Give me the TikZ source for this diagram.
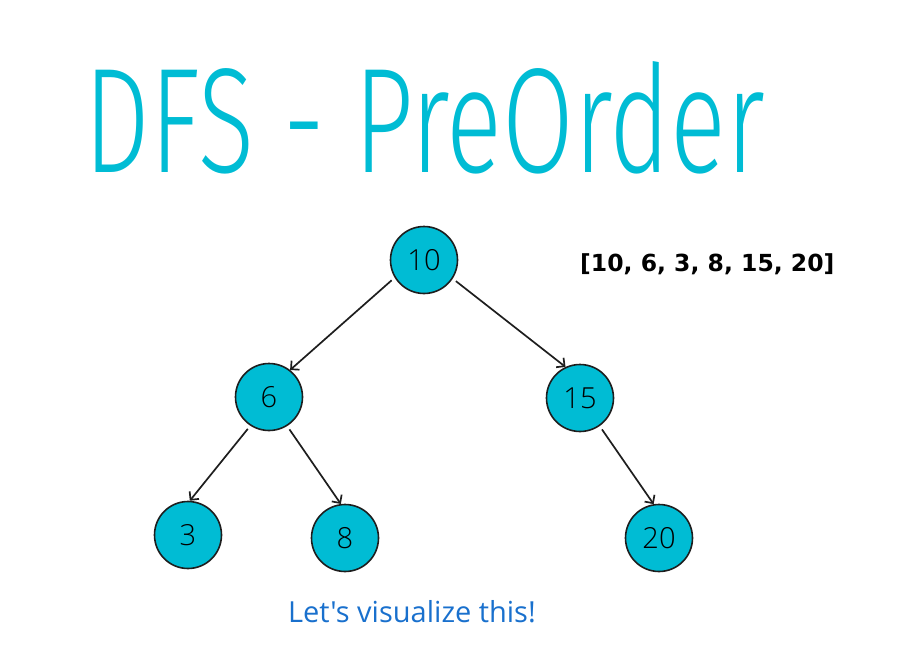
\documentclass[tikz,border=0pt]{standalone}
\usepackage{fontspec}
\usepackage{graphicx}
\setmainfont{Open Sans}
\newfontfamily\titlefont{Fira Sans Light}
\newfontfamily\numfont{Open Sans Light}
\newfontfamily\listfont{DejaVu Sans}
\newfontfamily\hintfont{Open Sans}[Ligatures=TeXOff]
\usetikzlibrary{arrows.meta}
\definecolor{tealcyan}{RGB}{0,188,212}
\definecolor{hintblue}{RGB}{25,112,205}
\definecolor{ringdark}{RGB}{30,30,30}
\tikzset{
  treenode/.style={circle, draw=ringdark, line width=1.6pt, fill=tealcyan,
    minimum size=67pt, inner sep=0pt, font=\numfont\fontsize{29}{29}\selectfont},
  treeedge/.style={draw=ringdark, line width=1.7pt,
    -{Straight Barb[length=6pt,width=12pt,line width=1.7pt]},
    shorten <=4pt}
}
\begin{document}
\begin{tikzpicture}[x=1pt,y=-1pt]
  \useasboundingbox (0,0) rectangle (924,672);
  % heading, squeezed into a condensed shape
  \node[anchor=base, text=tealcyan, inner sep=0pt] (title) at (425,172)
    {\resizebox{680pt}{111pt}{\titlefont\fontsize{100}{100}\selectfont DFS - PreOrder}};
  % traversal result
  \node[anchor=base west, inner sep=0pt, font=\listfont\bfseries\fontsize{23.5}{23.5}\selectfont] (result)
    at (580,271) {[10, 6, 3, 8, 15, 20]};
  % tree
  \node[treenode] (n10) at (424,260) {10};
  \node[treenode] (n6)  at (269,397) {6};
  \node[treenode] (n15) at (580,398) {15};
  \node[treenode] (n3)  at (188,535) {3};
  \node[treenode] (n8)  at (345,538) {8};
  \node[treenode] (n20) at (659,538) {20};
  \draw[treeedge] (n10.211) -- (n6.52);
  \draw[treeedge] (n10.-33) -- (n15.115);
  \draw[treeedge] (n6.237) -- (n3.87);
  \draw[treeedge] (n6.-58) -- (n8.97);
  \draw[treeedge] (n15.-55) -- (n20.99);
  % caption
  \node[anchor=base, inner sep=0pt, text=hintblue, font=\hintfont\fontsize{29}{29}\selectfont] (hint)
    at (412,622) {Let's visualize this!};
\end{tikzpicture}
\end{document}
